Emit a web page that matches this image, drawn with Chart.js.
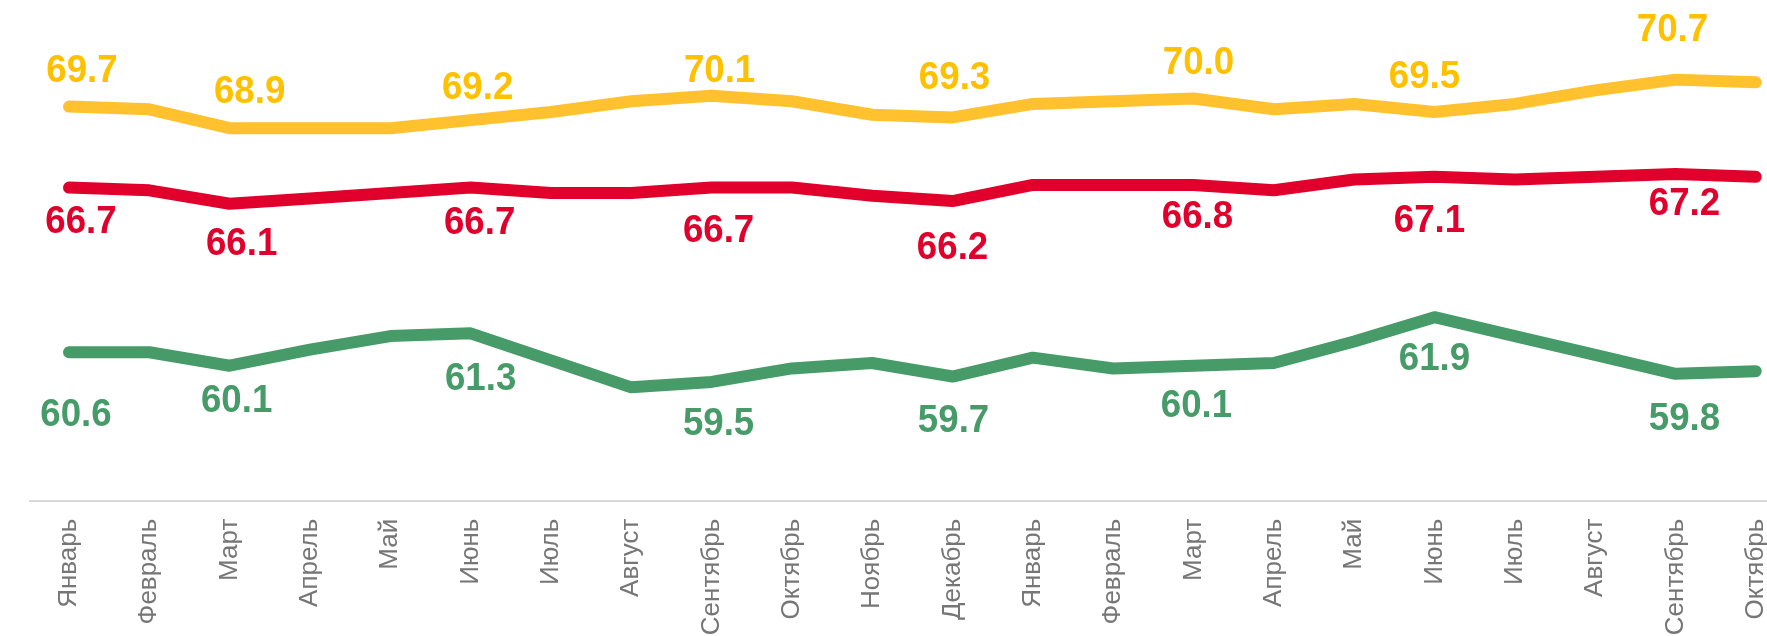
<!DOCTYPE html>
<html>
<head>
<meta charset="utf-8">
<script src="https://cdn.jsdelivr.net/npm/chart.js@4.4.1/dist/chart.umd.min.js"></script>
<style>
  html, body { margin: 0; padding: 0; background: #fff; }
  #wrap { width: 1767px; height: 636px; }
</style>
</head>
<body>
<div id="wrap"><canvas id="line-chart" width="1767" height="636"></canvas></div>
<script>
// ------------------------------------------------------
// @Data
// ------------------------------------------------------

const months = [
  'Январь', 'Февраль', 'Март', 'Апрель', 'Май', 'Июнь', 'Июль', 'Август', 'Сентябрь', 'Октябрь', 'Ноябрь',
  'Декабрь', 'Январь', 'Февраль', 'Март', 'Апрель', 'Май', 'Июнь', 'Июль', 'Август', 'Сентябрь', 'Октябрь',
];

const yellowValues = [69.7, 69.6, 68.9, 68.9, 68.9, 69.2, 69.5, 69.9, 70.1, 69.9, 69.4,
                      69.3, 69.8, 69.9, 70.0, 69.6, 69.8, 69.5, 69.8, 70.3, 70.7, 70.6];
const redValues    = [66.7, 66.6, 66.1, 66.3, 66.5, 66.7, 66.5, 66.5, 66.7, 66.7, 66.4,
                      66.2, 66.8, 66.8, 66.8, 66.6, 67.0, 67.1, 67.0, 67.1, 67.2, 67.1];
const greenValues  = [60.6, 60.6, 60.1, 60.7, 61.2, 61.3, 60.3, 59.3, 59.5, 60.0, 60.2,
                      59.7, 60.4, 60.0, 60.1, 60.2, 61.0, 61.9, 61.2, 60.5, 59.8, 59.9];

// points that carry a value label
const labelIndexes = [0, 2, 5, 8, 11, 14, 17, 20];

// label nudges in px (layout only)
const yellowLabelDx = [13, 20, 7, 8, 2, 5, -10, -3];
const yellowLabelDy = [-37, -38, -34, -27, -41, -37, -37, -51];
const redLabelDx    = [12, 12, 9, 7, 0, 4, -5, 9];
const redLabelDy    = [33, 38, 34, 42, 45, 30, 42, 28];
const greenLabelDx  = [7, 7, 10, 7, 1, 3, 0, 9];
const greenLabelDy  = [61, 34, 44, 40, 43, 39, 40, 43];

const COLORS = {
  yellowLine : 'rgb(255, 193, 46)',
  yellowText : 'rgb(255, 192, 0)',
  red        : 'rgb(224, 0, 43)',
  green      : 'rgb(70, 155, 104)',
  axis       : '#d9d9d9',
  ticks      : '#767676',
};

const toPoints = (values) => values.map((v, i) => ({ x: i, y: v }));

// ------------------------------------------------------
// @Value labels
// ------------------------------------------------------

const valueLabels = {
  id: 'valueLabels',
  afterDatasetsDraw(chart) {
    const ctx = chart.ctx;
    const squeeze = 0.94;
    ctx.save();
    ctx.font = 'bold 39px "Liberation Sans", Arial, sans-serif';
    ctx.textAlign = 'center';
    ctx.textBaseline = 'middle';
    chart.data.datasets.forEach((ds, di) => {
      const meta = chart.getDatasetMeta(di);
      ctx.fillStyle = ds.labelColor;
      labelIndexes.forEach((idx, k) => {
        const el = meta.data[idx];
        ctx.save();
        ctx.translate(el.x + ds.labelDx[k], el.y + ds.labelDy[k]);
        ctx.scale(squeeze, 1);
        ctx.fillText(ds.data[idx].y.toFixed(1), 0, 2);
        ctx.restore();
      });
    });
    ctx.restore();
  },
};

// ------------------------------------------------------
// @Line Chart
// ------------------------------------------------------

const lineChartBox = document.getElementById('line-chart');

if (lineChartBox) {
  const lineCtx = lineChartBox.getContext('2d');

  new Chart(lineCtx, {
    type: 'line',
    data: {
      datasets: [{
        label       : 'Yellow',
        data        : toPoints(yellowValues),
        borderColor : COLORS.yellowLine,
        labelColor  : COLORS.yellowText,
        labelDx     : yellowLabelDx,
        labelDy     : yellowLabelDy,
      }, {
        label       : 'Red',
        data        : toPoints(redValues),
        borderColor : COLORS.red,
        labelColor  : COLORS.red,
        labelDx     : redLabelDx,
        labelDy     : redLabelDy,
      }, {
        label       : 'Green',
        data        : toPoints(greenValues),
        borderColor : COLORS.green,
        labelColor  : COLORS.green,
        labelDx     : greenLabelDx,
        labelDy     : greenLabelDy,
      }],
    },

    options: {
      responsive: false,
      animation: false,
      layout: { padding: { left: 30, right: 0, top: 0, bottom: 0 } },
      elements: {
        line: {
          borderWidth     : 12,
          tension         : 0,
          borderCapStyle  : 'round',
          borderJoinStyle : 'round',
          fill            : false,
        },
        point: { radius: 0, hoverRadius: 0 },
      },
      plugins: {
        legend: { display: false },
        tooltip: { enabled: false },
      },
      scales: {
        x: {
          type: 'linear',
          min: -0.4856,
          max: 21.14,
          grid: { display: false },
          border: { display: true, color: COLORS.axis, width: 2 },
          afterBuildTicks: (scale) => {
            scale.ticks = months.map((m, i) => ({ value: i }));
          },
          afterFit: (scale) => {
            scale.height = 135.3;
            scale.paddingLeft = 0;
            scale.paddingRight = 0;
          },
          ticks: {
            autoSkip: false,
            minRotation: 90,
            maxRotation: 90,
            padding: 10,
            color: COLORS.ticks,
            font: { family: '"Liberation Sans", Arial, sans-serif', size: 26 },
            callback: (value) => months[value],
          },
        },
        y: {
          display: false,
          min: 55.1,
          max: 73.65,
        },
      },
    },
    plugins: [valueLabels],
  });
}
</script>
</body>
</html>
